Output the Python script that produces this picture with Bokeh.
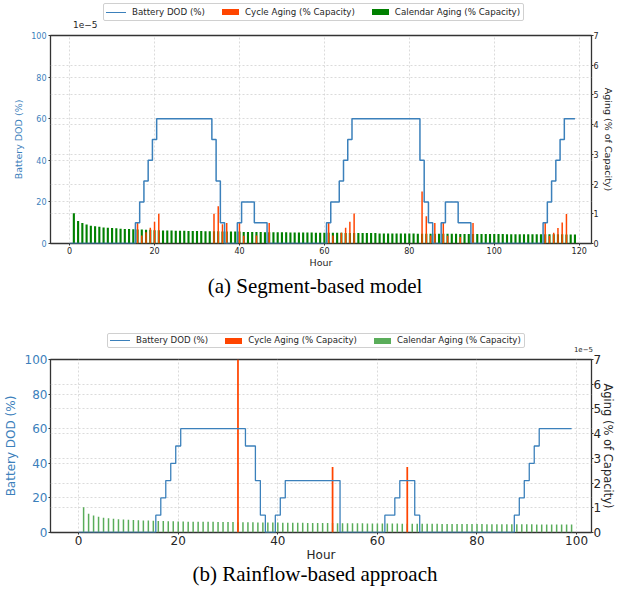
from bokeh.plotting import figure
from bokeh.models import Range1d, LinearAxis, FixedTicker, Grid, Div
from bokeh.layouts import column
from bokeh.embed import file_html
from bokeh.resources import INLINE

# ---------------- data (aging values in units of 1e-5 % capacity) ----------------
hours_a = list(range(0, 120))
dod_a = [0, 0, 0, 0, 0, 0, 0, 0, 0, 0, 0, 0, 0, 0, 0, 0,
         10, 20, 30, 40, 50,
         60, 60, 60, 60, 60, 60, 60, 60, 60, 60, 60, 60, 60,
         50, 30, 10,
         0, 0, 0,
         10,
         20, 20, 20,
         10, 10, 10,
         0, 0, 0, 0, 0, 0, 0, 0, 0, 0, 0, 0, 0, 0,
         10,
         20, 20,
         30, 40, 50,
         60, 60, 60, 60, 60, 60, 60, 60, 60, 60, 60, 60, 60, 60, 60, 60,
         40, 20, 10,
         0, 0,
         10,
         20, 20, 20,
         10, 10, 10,
         0, 0, 0, 0, 0, 0, 0, 0, 0, 0, 0, 0, 0, 0, 0, 0, 0,
         10, 20, 30, 40, 50,
         60, 60, 60]
cycle_hours_a = [16, 17, 18, 19, 20, 21, 34, 35, 36, 37, 40, 41, 44, 47,
                 61, 62, 64, 65, 66, 67, 83, 84, 85, 86, 88, 89, 92, 95,
                 112, 113, 114, 115, 116, 117]
cycle_a = [0.70, 0.27, 0.38, 0.53, 0.73, 1.00, 1.00, 1.25, 0.65, 0.69, 0.70, 0.26, 0.27, 0.69,
           0.70, 0.27, 0.36, 0.53, 0.73, 1.01, 1.75, 0.92, 0.27, 0.69, 0.69, 0.26, 0.22, 0.69,
           0.69, 0.26, 0.36, 0.52, 0.71, 0.99]
calendar_hours_a = list(range(1, 120))
calendar_a = [1.02, 0.76, 0.69, 0.64, 0.60, 0.58, 0.56, 0.54, 0.53, 0.52,
              0.51, 0.50, 0.49, 0.49, 0.48, 0.47, 0.47, 0.46, 0.46, 0.45,
              0.45, 0.44, 0.44, 0.44, 0.43, 0.43, 0.43, 0.42, 0.42, 0.42,
              0.42, 0.41, 0.41, 0.41, 0.41, 0.40, 0.40, 0.40, 0.40, 0.40,
              0.39, 0.39, 0.39, 0.39, 0.39, 0.38, 0.38, 0.38, 0.38, 0.38,
              0.38, 0.37, 0.37, 0.37, 0.37, 0.37, 0.37, 0.36, 0.36, 0.36,
              0.36, 0.36, 0.36, 0.36, 0.35, 0.35, 0.35, 0.35, 0.35, 0.35,
              0.35, 0.35, 0.34, 0.34, 0.34, 0.34, 0.34, 0.34, 0.34, 0.34,
              0.34, 0.33, 0.33, 0.33, 0.33, 0.33, 0.33, 0.33, 0.33, 0.33,
              0.33, 0.32, 0.32, 0.32, 0.32, 0.32, 0.32, 0.32, 0.32, 0.32,
              0.32, 0.32, 0.31, 0.31, 0.31, 0.31, 0.31, 0.31, 0.31, 0.31,
              0.31, 0.31, 0.31, 0.31, 0.31, 0.31, 0.30, 0.30, 0.30]

hours_b = list(range(0, 100))
dod_b = [0, 0, 0, 0, 0, 0, 0, 0, 0, 0, 0, 0, 0, 0, 0, 0,
         10, 20, 30, 40, 50,
         60, 60, 60, 60, 60, 60, 60, 60, 60, 60, 60, 60, 60,
         50, 50,
         30, 10,
         0, 0,
         10, 20,
         30, 30, 30, 30, 30, 30, 30, 30, 30, 30, 30,
         0, 0, 0, 0, 0, 0, 0, 0, 0,
         10, 10,
         20,
         30, 30, 30,
         10,
         0, 0, 0, 0, 0, 0, 0, 0, 0, 0, 0, 0, 0, 0, 0, 0, 0, 0, 0,
         10, 20, 30, 40, 50,
         60, 60, 60, 60, 60, 60, 60]
cycle_hours_b = [32, 51, 66]
cycle_b = [7.60, 2.65, 2.65]
calendar_hours_b = list(range(1, 100))
calendar_b = calendar_a[:99]

x_ticks_a = [0, 20, 40, 60, 80, 100, 120]
x_ticks_b = [0, 20, 40, 60, 80, 100]
dod_ticks = [0, 20, 40, 60, 80, 100]
aging_ticks = [0, 1, 2, 3, 4, 5, 6, 7]
aging_scale = "1e\u22125"
legend_labels = ["Battery DOD (%)", "Cycle Aging (% Capacity)", "Calendar Aging (% Capacity)"]
captions = ["(a) Segment-based model", "(b) Rainflow-based approach"]

BLUE = "#3b80bb"
ORANGE = "#ff4500"
GREEN_A = "#008000"
GREEN_B = "#5aad5a"
TXT = "#262626"
FONT = "DejaVu Sans"
SERIF = "Liberation Serif"


def make_panel(height, bt, bb, xr, x_ticks, hours, dod, ch, cv, calh, calv,
               cal_color, cal_w, cyc_w, line_w, tick_fs, label_fs, rlabel_fs, ystand,
               r_standoff):
    p = figure(width=618, height=height, x_range=Range1d(*xr), y_range=Range1d(0, 100),
               output_backend="svg", toolbar_location=None,
               min_border_left=42, min_border_right=20,
               min_border_top=bt, min_border_bottom=bb)
    p.extra_y_ranges = {"aging": Range1d(0, 7)}
    p.background_fill_color = "white"
    p.border_fill_color = "white"
    p.outline_line_color = "#333333"
    p.outline_line_width = 1.3

    for g in (p.xgrid, p.ygrid):
        g.grid_line_color = "#d2d2d2"
        g.grid_line_dash = "2 2"
        g.grid_line_width = 0.8
    p.xgrid.ticker = FixedTicker(ticks=x_ticks)
    p.ygrid.ticker = FixedTicker(ticks=dod_ticks)
    g2 = Grid(dimension=1, ticker=FixedTicker(ticks=aging_ticks), y_range_name="aging",
              grid_line_color="#d2d2d2", grid_line_dash="2 2", grid_line_width=0.8)
    p.add_layout(g2)

    p.vbar(x=calh, top=calv, width=cal_w, bottom=0, y_range_name="aging",
           fill_color=cal_color, line_color=None)
    p.vbar(x=ch, top=cv, width=cyc_w, bottom=0, y_range_name="aging",
           fill_color=ORANGE, line_color=None)
    p.step(x=hours, y=dod, mode="center", line_color=BLUE, line_width=line_w)

    xa = p.xaxis[0]
    xa.ticker = FixedTicker(ticks=x_ticks)
    xa.axis_label = "Hour"
    ya = p.yaxis[0]
    ya.ticker = FixedTicker(ticks=dod_ticks)
    ya.axis_label = "Battery DOD (%)"
    ra = LinearAxis(y_range_name="aging", ticker=FixedTicker(ticks=aging_ticks),
                    axis_label="Aging (% of Capacity)")
    p.add_layout(ra, "right")
    for ax in (xa, ya, ra):
        ax.axis_line_color = None
        ax.major_tick_line_color = "#333333"
        ax.major_tick_out = 2
        ax.major_tick_in = 0
        ax.minor_tick_line_color = None
        ax.major_label_text_font = FONT
        ax.major_label_text_font_size = tick_fs
        ax.major_label_text_color = TXT
        ax.major_label_standoff = 1
        ax.axis_label_text_font = FONT
        ax.axis_label_text_font_size = label_fs
        ax.axis_label_text_font_style = "normal"
        ax.axis_label_text_color = TXT
        ax.axis_label_standoff = 0
    ya.major_label_text_color = BLUE
    ya.axis_label_text_color = BLUE
    ya.major_label_standoff = ystand
    ya.axis_label_standoff = 4
    ra.major_label_standoff = 0
    ra.axis_label_standoff = r_standoff
    ra.axis_label_text_font_size = rlabel_fs
    return p


def legend_box(left, top, h, fs, line_w, cal_color):
    s = (f'<div style="position:absolute;left:{left}px;top:{top}px;height:{h}px;'
         f'box-sizing:border-box;border:1px solid #d0d0d0;border-radius:2px;background:#fff;'
         f'display:flex;align-items:center;padding:0 3px 0 2px;white-space:nowrap;'
         f"font-family:'{FONT}';font-size:{fs}px;color:{TXT};line-height:1;\">")
    s += (f'<span style="display:inline-block;width:20px;height:0;border-top:{line_w}px solid {BLUE};'
          f'margin-right:6px;"></span><span>{legend_labels[0]}</span>')
    s += (f'<span style="display:inline-block;width:17px;height:6px;background:{ORANGE};'
          f'margin:0 6px 0 17px;"></span><span>{legend_labels[1]}</span>')
    s += (f'<span style="display:inline-block;width:17px;height:6px;background:{cal_color};'
          f'margin:0 6px 0 17px;"></span><span>{legend_labels[2]}</span>')
    s += '</div>'
    return s


def scale_text(pos_css, top, fs):
    return (f'<span style="position:absolute;{pos_css}top:{top}px;font-family:\'{FONT}\';'
            f'font-size:{fs}px;line-height:{fs}px;color:{TXT};white-space:nowrap;">{aging_scale}</span>')


def caption_html(text, top):
    return (f'<div style="position:absolute;left:115px;top:{top}px;width:400px;text-align:center;'
            f"font-family:'{SERIF}';font-size:21px;line-height:21px;color:#000;"
            f'white-space:nowrap;">{text}</div>')


def box(html, h):
    return Div(text=f'<div style="position:relative;width:618px;height:{h}px;overflow:visible;">{html}</div>',
               width=618, height=h, margin=0)


# layout heights: 29 + 241 + 35 + 48 + 212 + 34 = 599
top_a = box(legend_box(103, 3, 18, 8.7, 1.5, GREEN_A) + scale_text("left:73px;", 21, 9), 29)
pa = make_panel(241, 6, 27, (-4.5, 122.9), x_ticks_a, hours_a, dod_a,
                cycle_hours_a, cycle_a, calendar_hours_a, calendar_a,
                GREEN_A, 0.5, 0.35, 1.5, "8px", "9.5px", "9.5px", 2, 1)
cap_a = box(caption_html(captions[0], 6), 35)

top_b = box(legend_box(107, 28, 15, 8.6, 1.3, GREEN_B) + scale_text("right:25px;", 42, 7), 48)
pb = make_panel(212, 6, 33, (-5.65, 103.0), x_ticks_b, hours_b, dod_b,
                cycle_hours_b, cycle_b, calendar_hours_b, calendar_b,
                GREEN_B, 0.3, 0.35, 1.3, "12px", "12px", "11.5px", 1, -3)
cap_b = box(caption_html(captions[1], -1), 34)

layout = column(top_a, pa, cap_a, top_b, pb, cap_b, spacing=0)
open("out.html", "w").write(file_html(layout, INLINE))
